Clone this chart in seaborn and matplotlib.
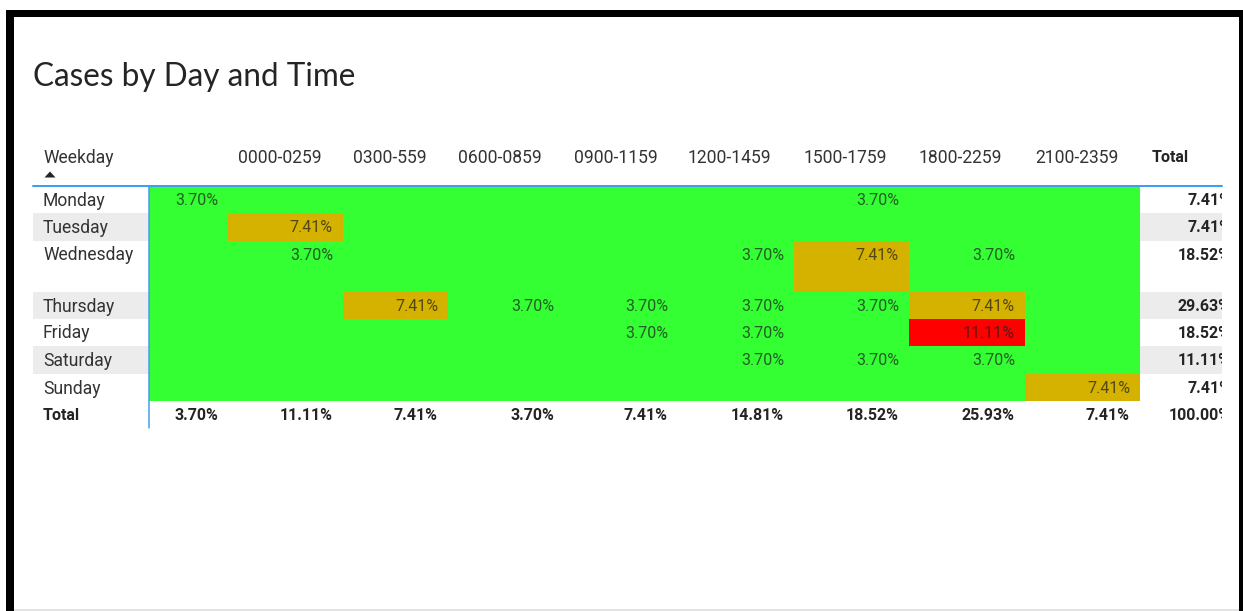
import numpy as np
import pandas as pd
import seaborn as sns
import matplotlib
matplotlib.use("Agg")
import matplotlib.pyplot as plt
from matplotlib import transforms
from matplotlib.colors import ListedColormap, BoundaryNorm
from matplotlib.patches import Rectangle, Polygon

# ---------------------------------------------------------------- data
weekdays = ["Monday", "Tuesday", "Wednesday", "Thursday", "Friday", "Saturday", "Sunday"]
time_bands = ["", "0000-0259", "0300-559", "0600-0859", "0900-1159",
              "1200-1459", "1500-1759", "1800-2259", "2100-2359"]

# number of cases per weekday in each time band
monday    = [1, 0, 0, 0, 0, 0, 1, 0, 0]
tuesday   = [0, 2, 0, 0, 0, 0, 0, 0, 0]
wednesday = [0, 1, 0, 0, 0, 1, 2, 1, 0]
thursday  = [0, 0, 2, 1, 1, 1, 1, 2, 0]
friday    = [0, 0, 0, 0, 1, 1, 0, 3, 0]
saturday  = [0, 0, 0, 0, 0, 1, 1, 1, 0]
sunday    = [0, 0, 0, 0, 0, 0, 0, 0, 2]

counts = pd.DataFrame([monday, tuesday, wednesday, thursday, friday, saturday, sunday],
                      index=weekdays, columns=time_bands)
pct = counts / counts.values.sum() * 100
row_total = pct.sum(axis=1)
col_total = pct.sum(axis=0)
grand_total = pct.values.sum()

# ---------------------------------------------------------------- style
GREEN, GOLD, RED = "#33ff33", "#d6b200", "#ff0000"
BLUE = "#3d9ff0"
BAND = "#ececec"
TXT = "#333333"
DARK = "#252423"
BODY_FONT = "Roboto"
VALUE_SIZE = 16
LABEL_SIZE = 17.5

W, H, DPI = 1243, 611, 72
sns.set_theme(style="white")
plt.rcParams["font.family"] = [BODY_FONT, "DejaVu Sans"]

fig = plt.figure(figsize=(W / DPI, H / DPI), dpi=DPI, facecolor="white")
# figure coordinates in pixels, origin at the top-left corner
px = transforms.Affine2D().scale(1 / W, -1 / H).translate(0, 1) + fig.transFigure

# column edges (row-header column, 9 time bands, total column) and row edges
col_edges = [33, 149, 228, 343, 448, 564, 678, 794, 909, 1025, 1140, 1222]
row_edges = [186, 213, 241, 292, 319, 346, 374, 401, 428]
xi = np.arange(-1, len(col_edges) - 1)
yi = np.arange(0, len(row_edges))

ax = fig.add_axes([col_edges[1] / W, 1 - row_edges[7] / H,
                   (col_edges[10] - col_edges[1]) / W, (row_edges[7] - row_edges[0]) / H])

cmap = ListedColormap([GREEN, GOLD, RED])
norm = BoundaryNorm([0, 5, 9, 12], cmap.N)
sns.heatmap(pct, ax=ax, cmap=cmap, norm=norm, cbar=False,
            xticklabels=False, yticklabels=False, linewidths=0)

# piecewise-linear scales give each column / row its own width / height
ax.set_xscale("function", functions=(lambda v: np.interp(v, xi, col_edges),
                                     lambda p: np.interp(p, col_edges, xi)))
ax.set_yscale("function", functions=(lambda v: np.interp(v, yi, row_edges),
                                     lambda p: np.interp(p, row_edges, yi)))
ax.set_xlim(0, len(time_bands))
ax.set_ylim(len(weekdays), 0)
ax.set_xticks([])
ax.set_yticks([])
ax.tick_params(length=0)
for s in ax.spines.values():
    s.set_visible(False)

def shifted(dx, dy):
    return transforms.offset_copy(ax.transData, fig=fig, x=dx, y=dy, units="dots")

nrows, ncols = pct.shape
tot_x = ncols + 1  # right edge of the total column
ROW_DY = -14.5     # text centre below the top of its row

# alternating grey bands in row-header and total columns
for i in range(1, nrows, 2):
    for x0 in (-1, ncols):
        ax.add_patch(Rectangle((x0, i), 1, 1, facecolor=BAND, edgecolor="none",
                               transform=ax.transData, clip_on=False, zorder=0.5))

# header and row separators
ax.plot([-1, tot_x], [0, 0], color=BLUE, lw=2, clip_on=False, zorder=3)
ax.plot([0, 0], [0, nrows + 1], color=BLUE, lw=1.5, clip_on=False, zorder=3)

# column headers
head_tr = shifted(10, 28.5)
ax.text(-1, 0, "Weekday", transform=head_tr, ha="left", va="center",
        fontsize=LABEL_SIZE, color=TXT)
for j, name in enumerate(time_bands):
    if name:
        ax.text(j, 0, name, transform=head_tr, ha="left", va="center",
                fontsize=LABEL_SIZE, color=TXT)
ax.text(ncols, 0, "Total", transform=shifted(12, 28.5), ha="left", va="center",
        fontsize=VALUE_SIZE, color=DARK, fontweight="bold")

# sort indicator under "Weekday"
fig.patches.append(Polygon([(44.5, 177.5), (55.5, 177.5), (50, 171.5)], closed=True,
                           facecolor=DARK, edgecolor="none", transform=px))

# row labels
for i, day in enumerate(weekdays):
    ax.text(-1, i, day, transform=shifted(10, ROW_DY), ha="left", va="center",
            fontsize=LABEL_SIZE, color=TXT)
ax.text(-1, nrows, "Total", transform=shifted(10, ROW_DY), ha="left", va="center",
        fontsize=VALUE_SIZE, color=DARK, fontweight="bold")

# cell values
cell_tr = shifted(-10, ROW_DY)
for i in range(nrows):
    for j in range(ncols):
        v = pct.iat[i, j]
        if v > 0:
            ax.text(j + 1, i, f"{v:.2f}%", transform=cell_tr, ha="right", va="center",
                    fontsize=VALUE_SIZE, color="#1e1e1e", alpha=0.72, zorder=4)

# column totals
for j in range(ncols):
    ax.text(j + 1, nrows, f"{col_total.iloc[j]:.2f}%", transform=cell_tr, ha="right",
            va="center", fontsize=VALUE_SIZE, color=DARK, fontweight="bold")

# row totals, clipped at the visible edge of the total column
clip = transforms.TransformedBbox(
    transforms.Bbox.from_extents(col_edges[10], row_edges[0], col_edges[11], row_edges[-1]), px)
tot_tr = shifted(9, ROW_DY)
for i in range(nrows + 1):
    val = row_total.iloc[i] if i < nrows else grand_total
    t = ax.text(tot_x, i, f"{val:.2f}%", transform=tot_tr, ha="right", va="center",
                fontsize=VALUE_SIZE, color=DARK, fontweight="bold")
    t.set_clip_path(None)
    t.set_clip_box(clip)
    t.set_clip_on(True)

# title
fig.text(33, 86, "Cases by Day and Time", transform=px, ha="left", va="baseline",
         fontsize=31.5, color=DARK, family=["Lato", "DejaVu Sans"])

# surrounding frame
for (x0, y0, x1, y1, c) in [(6, 10, W, 17, "black"), (6, 10, 14, H, "black"),
                            (1239, 10, W, H, "black"), (14, 609, 1239, H, "#e3e3e3")]:
    fig.patches.append(Rectangle((x0, y0), x1 - x0, y1 - y0, facecolor=c,
                                 edgecolor="none", transform=px))

fig.savefig("out.png", dpi=DPI, facecolor="white")
